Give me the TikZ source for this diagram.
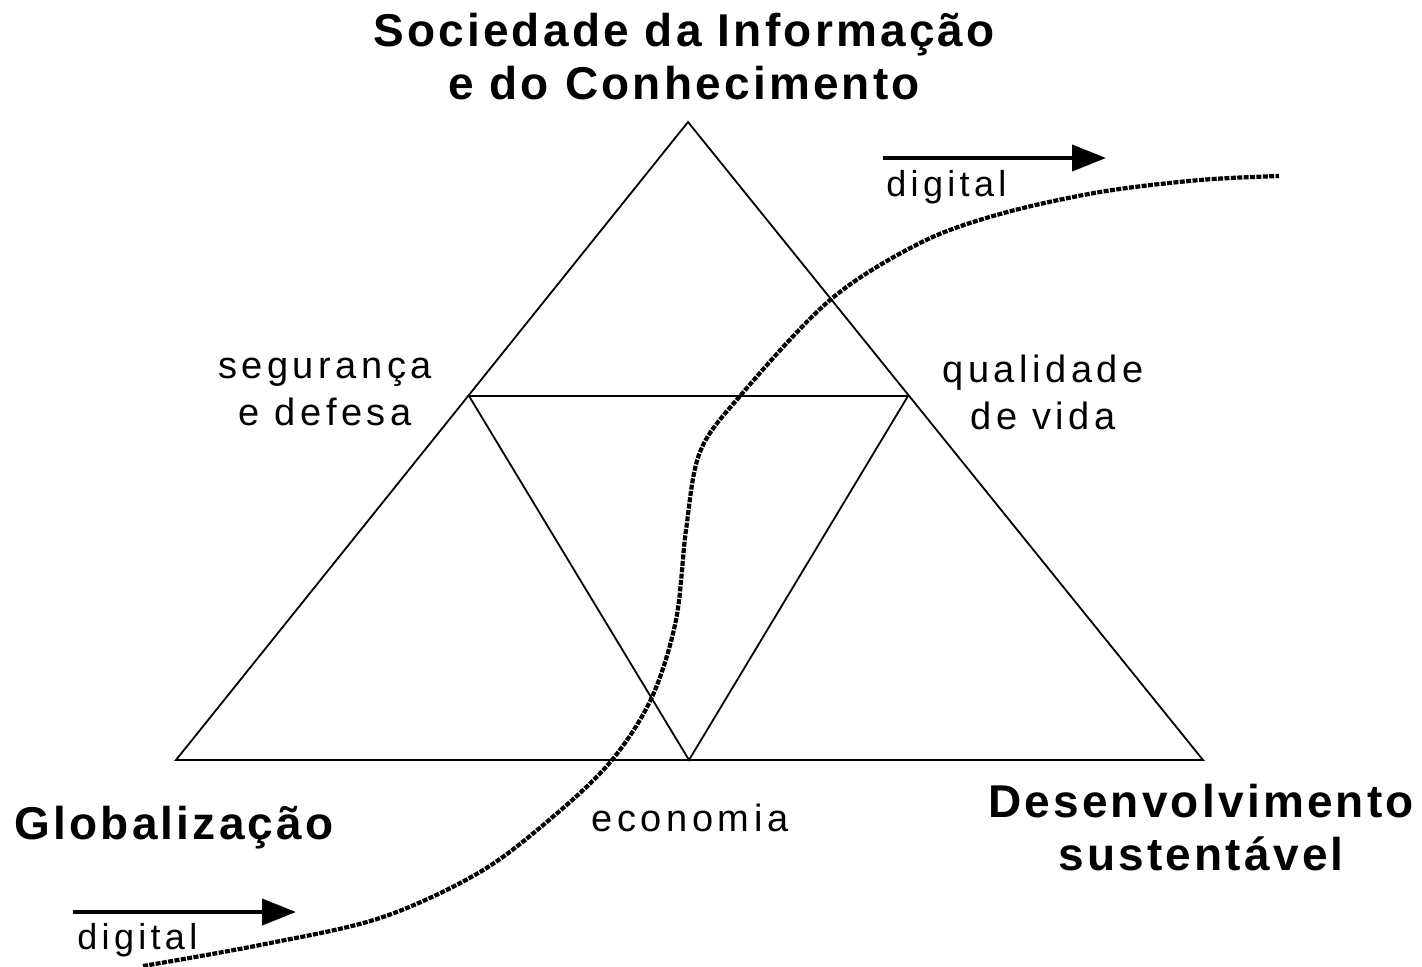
\documentclass[tikz,border=0pt]{standalone}
\usepackage{fontspec}
\setmainfont{Liberation Sans}
\newfontfamily\lblfont[LetterSpace=12]{Liberation Sans}
\newfontfamily\hdfont[LetterSpace=7]{Liberation Sans}
\usetikzlibrary{arrows.meta}
\begin{document}
\begin{tikzpicture}[x=0.5pt,y=-0.5pt,
  edge/.style={line width=0.9pt},
  curvestyle/.style={line width=2.1pt, dash pattern=on 2.5pt off 0.7pt},
  flow/.style={line width=2pt,-{Triangle[length=17pt,width=13pt]}},
  head/.style={font=\hdfont\bfseries\fontsize{23}{26.5}\selectfont, align=center, inner sep=0pt},
  lbl/.style={font=\lblfont\fontsize{19}{23.5}\selectfont, align=center, inner sep=0pt},
  dig/.style={font=\lblfont\fontsize{18}{22}\selectfont, inner sep=0pt, anchor=west}]
\useasboundingbox (0,0) rectangle (1422,966);
% triangle corners
\coordinate (T) at (688,122);
\coordinate (L) at (176,760);
\coordinate (R) at (1203,760);
\coordinate (ML) at (469,396);
\coordinate (MR) at (908,396);
\coordinate (MB) at (689,760);
\draw[edge] (T) -- (L) -- (R) -- cycle;
\draw[edge] (ML) -- (MR) -- (MB) -- cycle;
% texts
\node[head] (soc) at (684,57) {Sociedade da Informação\\e do Conhecimento};
\node[head, anchor=west] (glob) at (14,828) {Globalização};
\node[head] (des) at (1201,828) {Desenvolvimento\\sustentável};
\node[lbl] (seg) at (325,392) {segurança\\e defesa};
\node[lbl] (qual) at (1043,392) {qualidade\\de vida};
\node[lbl] (eco) at (690,818) {economia};
\node[dig] (d1) at (886,187) {digital};
\node[dig] (d2) at (77,940) {digital};
% arrows
\coordinate (a1s) at (883,158);
\coordinate (a1e) at (1106,158);
\coordinate (a2s) at (73,912);
\coordinate (a2e) at (296,912);
\draw[flow] (a1s) -- (a1e);
\draw[flow] (a2s) -- (a2e);
% curve
\draw[curvestyle] plot[smooth, tension=0.55] coordinates {
 (143,966) (260,945) (380,918) (480,872) (555,815) (612,760) (652,697)
 (676,620) (686,530) (700,452) (740,396) (830,300)
 (920,243) (1000,214) (1100,192) (1200,180) (1279,176)};
\end{tikzpicture}
\end{document}
